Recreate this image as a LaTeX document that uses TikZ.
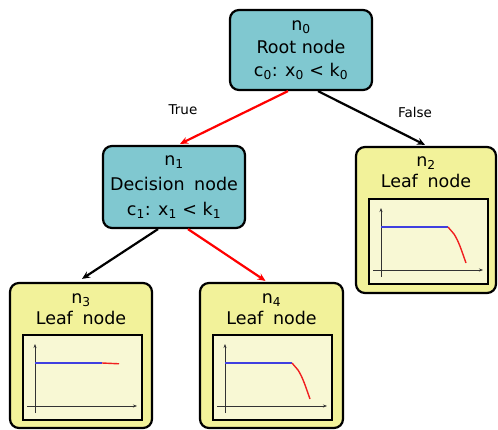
\documentclass[tikz,border=0pt]{standalone}
\usepackage{fontspec}
\setmainfont{DejaVu Sans}
\usetikzlibrary{arrows.meta}
\definecolor{decfill}{HTML}{80C8D0}
\definecolor{leaffill}{HTML}{F2F29A}
\definecolor{plotfill}{HTML}{F8F8D4}
\definecolor{curvered}{HTML}{F02020}
\definecolor{curveblue}{HTML}{4040E0}
\newcommand{\wsp}{\hspace{0.55em}}
\begin{document}
\begin{tikzpicture}[x=1pt,y=-1pt,
  decbox/.style={draw=black, line width=2.2pt, rounded corners=9pt, fill=decfill,
    minimum width=142pt, minimum height=80pt, inner sep=0pt, align=center,
    font=\fontsize{17.5}{23}\selectfont},
  leafbox/.style={draw=black, line width=2.2pt, rounded corners=9pt, fill=leaffill,
    minimum width=142pt, minimum height=145pt, inner sep=0pt},
  leaftext/.style={align=center, inner sep=0pt, font=\fontsize{17.5}{23}\selectfont},
  plotbox/.style={draw=black, line width=2.4pt, fill=plotfill},
  axis/.style={draw=black!80, line width=0.6pt, -{Stealth[length=4pt,width=3pt]}},
  edge/.style={line width=2.2pt, -{Stealth[length=8pt,width=7pt]}},
  lbl/.style={font=\fontsize{13.5}{15}\selectfont, inner sep=0pt}
]
\useasboundingbox (0,0) rectangle (498,430);

\node[decbox] (n0) at (301,50) {n\textsubscript{0}\\Root node\\c\textsubscript{0}: x\textsubscript{0} < k\textsubscript{0}};
\node[decbox, minimum height=82pt, font=\fontsize{17.5}{25}\selectfont] (n1) at (174,187) {n\textsubscript{1}\\Decision\wsp node\\c\textsubscript{1}: x\textsubscript{1} < k\textsubscript{1}};

\node[leafbox, minimum width=140pt, minimum height=146pt] (n2) at (426,220) {};
\node[leafbox] (n3) at (81,355.5) {};
\node[leafbox, minimum width=143pt] (n4) at (271.5,355.5) {};

\node[leaftext] (t2) at (426,172) {n\textsubscript{2}\\[-2pt]Leaf\wsp node};
\node[leaftext] (t3) at (81,309) {n\textsubscript{3}\\[-2pt]Leaf\wsp node};
\node[leaftext] (t4) at (271.5,309) {n\textsubscript{4}\\[-2pt]Leaf\wsp node};

\foreach \ox/\oy/\kind in {356/147/1, 10/283/0, 200/283/1}{
  \begin{scope}[shift={(\ox,\oy)}]
    \path[plotbox] (13,52) rectangle (132,137);
    \draw[axis] (25,130) -- (25,61);
    \draw[axis] (17,123) -- (127,123);
    \draw[curveblue, line width=1.6pt] (25,80) -- (92,80);
    \ifnum\kind=1
      \draw[curvered, line width=1.4pt] (92,80) -- (98,87) .. controls (103,95) and (105,102) .. (110,116);
    \else
      \draw[curvered, line width=1.4pt] (92,80) -- (109,80.8);
    \fi
  \end{scope}
}

\draw[edge, red] ([xshift=-13pt]n0.south) -- ([xshift=6pt,yshift=1pt]n1.north);
\draw[edge, black] ([xshift=17pt]n0.south) -- ([xshift=-1pt,yshift=1pt]n2.north);
\draw[edge, black] ([xshift=-16pt]n1.south) -- ([xshift=1pt,yshift=3pt]n3.north);
\draw[edge, red] ([xshift=14pt]n1.south) -- ([xshift=-6pt,yshift=1pt]n4.north);

\node[lbl] (lt) at (183,110) {True};
\node[lbl] (lf) at (415,112) {False};
\end{tikzpicture}
\end{document}
